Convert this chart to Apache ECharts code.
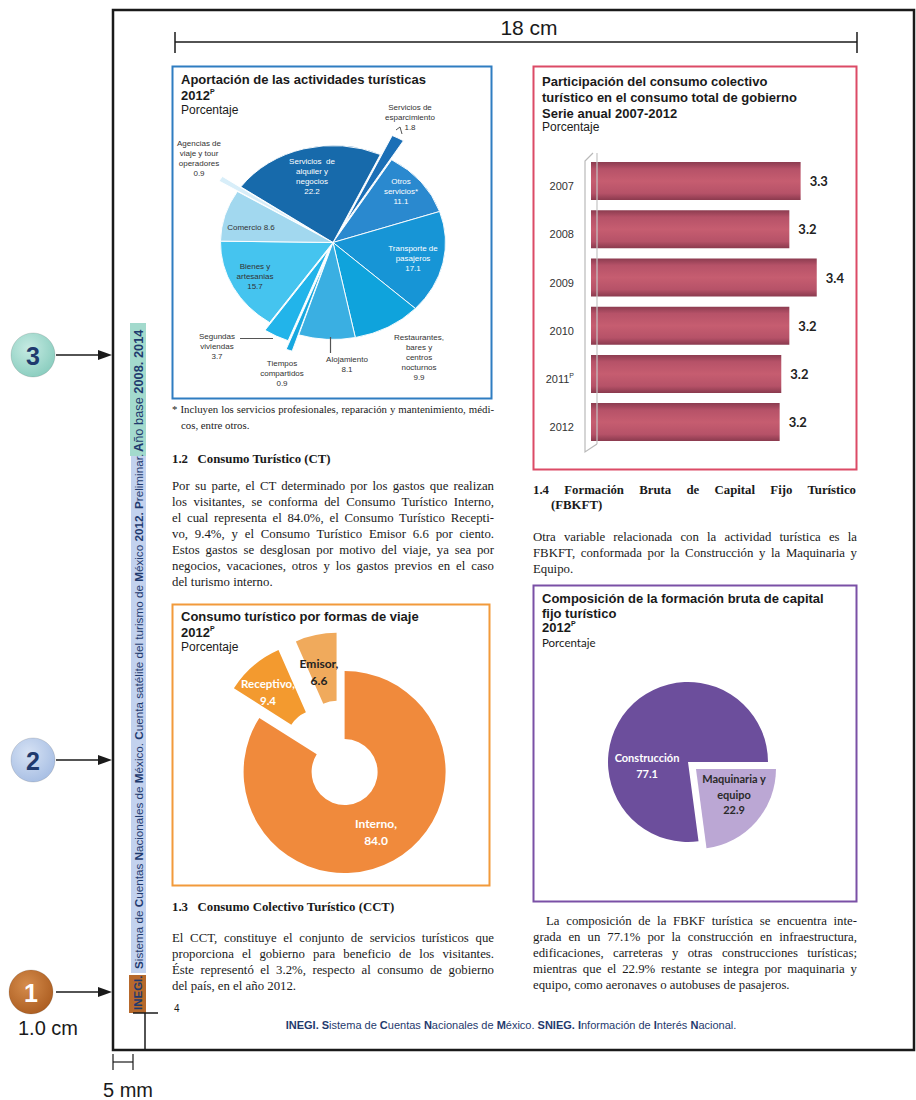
<!DOCTYPE html>
<html lang="es">
<head>
<meta charset="utf-8">
<title>Cuenta satélite del turismo de México 2012</title>
<script src="https://cdn.jsdelivr.net/npm/echarts@6/dist/echarts.min.js"></script>
<style>
  html, body { margin: 0; padding: 0; background: #fff; }
  #page { position: relative; width: 916px; height: 1100px; overflow: hidden; background: #fff; }
  #pie1 { position: absolute; left: 172px; top: 100px; width: 320px; height: 340px;
          transform: scaleY(0.862); transform-origin: 0 0; z-index: 1; }
  #main { position: absolute; left: 0; top: 0; width: 916px; height: 1100px; z-index: 2; }
  .ln { position: absolute; z-index: 3; font-family: "Liberation Serif", "Times New Roman", serif;
        font-size: 12.8px; line-height: 16px; color: #1a1a1a; text-align: justify; text-align-last: justify; }
  .ln.last { text-align: left; text-align-last: left; }
  .ln.b { font-weight: bold; }
  .ln.small { font-size: 10.8px; }
</style>
</head>
<body>
<div id="page">
  <div id="pie1"></div>
  <div id="main"></div>
</div>
<script>
// ---------- Datos ----------
// Aportación de las actividades turísticas, 2012 (porcentaje)
const actividades = [
  'Servicios  de\nalquiler y\nnegocios',
  'Servicios de\nesparcimiento',
  'Otros\nservicios*',
  'Transporte de\npasajeros',
  'Restaurantes,\nbares y\ncentros\nnocturnos',
  'Alojamiento',
  'Tiempos\ncompartidos',
  'Segundas\nviviendas',
  'Bienes y\nartesanias',
  'Comercio',
  'Agencias de\nviaje y tour\noperadores'
];
const aportacion = [22.2, 1.8, 11.1, 17.1, 9.9, 8.1, 0.9, 3.7, 15.7, 8.6, 0.9];

// Participación del consumo colectivo turístico en el consumo total de gobierno
const anios = ['2007', '2008', '2009', '2010', '2011P', '2012'];
const participacion = [3.30, 3.23, 3.40, 3.23, 3.18, 3.17];

// Consumo turístico por formas de viaje, 2012
const formasViaje = ['Interno', 'Receptivo', 'Emisor'];
const consumoFormas = [84.0, 9.4, 6.6];

// Composición de la formación bruta de capital fijo turístico, 2012
const componentes = ['Construcción', 'Maquinaria y\nequipo'];
const fbkf = [77.1, 22.9];

// ---------- Estilos ----------
const SANS = '"Liberation Sans", Arial, sans-serif';
const CALIBRI = 'Lato, "Open Sans", sans-serif';
const NAVY = '#1f3a6e';
const actColores = ['#176aab', '#1b6fb6', '#2a89cf', '#1795d6', '#0fa3dc', '#3aafe2',
                    '#17a8e0', '#22b4ea', '#45c4ef', '#a2d8ef', '#d8eef9'];
const actTextoBlanco = [true, false, true, true, false, false, false, false, false, false, false];
// desplazamiento (px) de las porciones separadas
const actSeparadas = { 1: 25, 6: 20, 7: 10, 10: 22 };
// posición de cada etiqueta (centro x, primera línea y)
const actEtiquetas = [[312, 156], [410, 102], [401, 176], [413, 243], [419, 332], [347, 354],
                      [282, 358], [217, 331], [255, 261], [251, 222], [199, 138]];
const formasColores = ['#f08a3c', '#f39a2f', '#f0aa5c'];
const formasEtiquetas = [[376, 815, '#fff', 12], [268, 675, '#fff', 11.5], [319, 655, '#222', 12]];
const fbkfColores = ['#6c4e9c', '#bba7d4'];
const fbkfEtiquetas = [[647, 750, '#fff'], [734, 771, '#2a2a2a']];

// ---------- Gráfica: aportación de las actividades turísticas ----------
const pie1 = echarts.init(document.getElementById('pie1'), null, { renderer: 'svg' });
const P1_CENTER = [161, 165.3];
const P1_RADIUS = 112.5;
const P1_START = 145;
const hidden = { color: 'rgba(0,0,0,0)', borderWidth: 0 };
const total1 = aportacion.reduce((a, b) => a + b, 0);
function pieSeries(center, visibleFn) {
  return {
    type: 'pie', silent: true, center: center, radius: P1_RADIUS, startAngle: P1_START,
    label: { show: false }, labelLine: { show: false },
    itemStyle: { borderColor: '#fff', borderWidth: 1 },
    data: actividades.map((n, i) => ({
      name: n, value: aportacion[i],
      itemStyle: visibleFn(i) ? { color: actColores[i] } : hidden
    }))
  };
}
const pie1Series = [pieSeries(P1_CENTER, i => !(i in actSeparadas))];
// porciones separadas: mismo pastel con el centro desplazado sobre la bisectriz
Object.keys(actSeparadas).forEach(k => {
  const idx = +k;
  let before = 0;
  for (let i = 0; i < idx; i++) before += aportacion[i];
  const mid = (90 - P1_START) + (before + aportacion[idx] / 2) / total1 * 360;
  const rad = mid * Math.PI / 180;
  const d = actSeparadas[k];
  pie1Series.push(pieSeries([P1_CENTER[0] + d * Math.sin(rad), P1_CENTER[1] - d * Math.cos(rad)], i => i === idx));
});
pie1.setOption({ animation: false, series: pie1Series });

// ---------- Helpers de texto ----------
function text(x, y, str, o) {
  o = o || {};
  return {
    type: 'text', x: x, y: y, rotation: o.rotation || 0, z: 10,
    style: {
      text: str, fill: o.fill || '#1a1a1a', fontSize: o.size || 12,
      fontFamily: o.family || SANS, fontWeight: o.weight || 'normal',
      align: o.align || 'left', verticalAlign: o.valign || 'top',
      lineHeight: o.lineHeight, rich: o.rich
    }
  };
}
// año con superíndice "P" (cifras preliminares)
function yearP(x, y, year) {
  return text(x, y, `{y|${year}}{p|P}`, {
    rich: {
      y: { fontSize: 13, fontWeight: 'bold', fontFamily: SANS, fill: '#1a1a1a', lineHeight: 15 },
      p: { fontSize: 7, fontWeight: 'bold', fontFamily: SANS, fill: '#1a1a1a', lineHeight: 9, verticalAlign: 'top' }
    }
  });
}
// texto con negritas marcadas entre asteriscos dobles
function richBold(str, size, color) {
  const parts = str.split('**');
  let out = '';
  parts.forEach((p, i) => { if (p) out += `{${i % 2 ? 'b' : 'r'}|${p}}`; });
  return {
    text: out,
    rich: {
      r: { fontSize: size, fontFamily: SANS, fill: color },
      b: { fontSize: size, fontFamily: SANS, fill: color, fontWeight: 'bold' }
    }
  };
}
function line(x1, y1, x2, y2, w, c) {
  return { type: 'line', z: 5, shape: { x1, y1, x2, y2 }, style: { stroke: c || '#1a1a1a', lineWidth: w || 1 } };
}
function frame(x, y, w, h, c) {
  return { type: 'rect', z: 5, shape: { x, y, width: w, height: h }, style: { fill: 'none', stroke: c, lineWidth: 2 } };
}

const g = [];
// marco de página y regla
g.push({ type: 'rect', z: 5, shape: { x: 113, y: 10, width: 801, height: 1040 }, style: { fill: 'none', stroke: '#1a1a1a', lineWidth: 2.5 } });
g.push(line(175, 42, 857, 42, 1.5), line(175, 32, 175, 53, 1.5), line(857, 32, 857, 53, 1.5));
g.push(text(529, 17, '18 cm', { size: 21, align: 'center' }));

// indicadores numerados
[[33, 355, '3', ['#c6ebe3', '#84cabb'], NAVY], [33, 760, '2', ['#d6e2f4', '#a3bbe2'], NAVY],
 [31, 992, '1', ['#d58c4c', '#a8591d'], '#fff']].forEach(([cx, cy, n, cs, tc]) => {
  g.push({ type: 'circle', z: 5, shape: { cx, cy, r: 22 }, style: {
    fill: { type: 'radial', x: 0.4, y: 0.35, r: 0.75, colorStops: [{ offset: 0, color: cs[0] }, { offset: 1, color: cs[1] }] },
    stroke: 'rgba(0,0,0,0.12)', lineWidth: 1 } });
  g.push(text(cx, cy + 1, n, { size: 25, weight: 'bold', fill: tc, align: 'center', valign: 'middle' }));
  g.push(line(56, cy, 100, cy, 1.5));
  g.push({ type: 'polygon', z: 5, shape: { points: [[98, cy - 5], [112, cy], [98, cy + 5]] }, style: { fill: '#1a1a1a' } });
});
g.push(text(48, 1018, '1.0 cm', { size: 20, align: 'center' }));
g.push(text(128, 1080, '5 mm', { size: 20, align: 'center' }));
g.push(line(133, 1013, 158, 1013, 1.5), line(145, 1013, 145, 1050, 1.5));
g.push(line(113, 1062, 133, 1062, 1.2), line(113, 1054, 113, 1070, 1.2), line(133, 1054, 133, 1070, 1.2));

// franja vertical del margen
g.push({ type: 'rect', z: 4, shape: { x: 129, y: 975, width: 17, height: 38 }, style: { fill: '#b7692c' } });
g.push({ type: 'rect', z: 4, shape: { x: 131, y: 456, width: 15, height: 517 }, style: { fill: '#c3d2ee' } });
g.push({ type: 'rect', z: 4, shape: { x: 130, y: 323, width: 16, height: 133 }, style: { fill: '#a3dacd' } });
[[1010, '**INEGI.**', 11.5],
 [969, '**S**istema de **C**uentas **N**acionales de **M**éxico. **C**uenta satélite del turismo de **M**éxico **2012. P**reliminar.', 11.7],
 [452, '**A**ño base **2008. 2014**', 12.8]].forEach(([y, s, fs]) => {
  const rb = richBold(s, fs, NAVY);
  g.push(text(138, y, rb.text, { rotation: Math.PI / 2, valign: 'middle', rich: rb.rich }));
});

// pie de página y número de página
const pie = richBold('**INEGI. S**istema de **C**uentas **N**acionales de **M**éxico. **SNIEG. I**nformación de **I**nterés **N**acional.', 11, NAVY);
g.push(text(511, 1019, pie.text, { align: 'center', rich: pie.rich }));
g.push(text(174, 1003, '4', { size: 10 }));

// ---- Recuadros y títulos ----
g.push(frame(172.5, 66.5, 319, 332, '#2f7dc1'));
g.push(text(181, 73, 'Aportación de las actividades turísticas', { size: 13, weight: 'bold' }));
g.push(yearP(181, 88, '2012'));
g.push(text(181, 104, 'Porcentaje', { size: 12 }));

g.push(frame(533.5, 66.5, 323, 403, '#dc4b66'));
g.push(text(542, 73, 'Participación del consumo colectivo\nturístico en el consumo total de gobierno\nSerie anual 2007-2012', { size: 13, weight: 'bold', lineHeight: 16 }));
g.push(text(542, 121, 'Porcentaje', { size: 12 }));

g.push(frame(172.5, 604.5, 317, 281, '#f29a3b'));
g.push(text(181, 610, 'Consumo turístico por formas de viaje', { size: 13, weight: 'bold' }));
g.push(yearP(181, 625, '2012'));
g.push(text(181, 641, 'Porcentaje', { size: 12 }));

g.push(frame(533.5, 585.5, 323, 316, '#7a50a6'));
g.push(text(542, 591, 'Composición de la formación bruta de capital\nfijo turístico', { size: 13, weight: 'bold', lineHeight: 15 }));
g.push(yearP(542, 620, '2012'));
g.push(text(542, 636, 'Porcentaje', { size: 11.5, family: CALIBRI }));

// etiquetas de la gráfica de actividades
actividades.forEach((n, i) => {
  const sep = i === 9 ? ' ' : '\n';
  const [lx, ly] = actEtiquetas[i];
  g.push(text(lx, ly, n + sep + aportacion[i].toFixed(1), {
    size: 8, lineHeight: 10, align: 'center', fill: actTextoBlanco[i] ? '#ffffff' : '#333333'
  }));
});
g.push(line(240, 338.5, 273, 338.5, 1, '#555'));
g.push(line(330.5, 337, 330.5, 353, 1.2, '#555'));
g.push({ type: 'polyline', z: 5, shape: { points: [[396, 130], [400, 127], [402, 134]] }, style: { stroke: '#555', lineWidth: 1, fill: 'none' } });

// etiquetas del consumo por formas de viaje
formasViaje.forEach((n, i) => {
  const [lx, ly, c, fs] = formasEtiquetas[i];
  g.push(text(lx, ly, n + ',\n' + consumoFormas[i].toFixed(1), {
    size: fs, weight: 'bold', family: CALIBRI, lineHeight: 17, align: 'center', fill: c
  }));
});
// etiquetas de la composición de la FBKF
componentes.forEach((n, i) => {
  const [lx, ly, c] = fbkfEtiquetas[i];
  g.push(text(lx, ly, n + '\n' + fbkf[i].toFixed(1), {
    size: 11, weight: 'bold', family: CALIBRI, lineHeight: 15.5, align: 'center', fill: c
  }));
});

// eje con efecto de pared de la gráfica de barras
g.push({ type: 'polyline', z: 1, shape: { points: [[593, 153], [585, 161], [585, 452], [597, 444]] }, style: { stroke: '#b9b9b9', lineWidth: 1.2, fill: 'none' } });
g.push(line(597, 153, 597, 444, 1.2, '#c4c4c4'));

// ---------- Gráficas principales ----------
const main = echarts.init(document.getElementById('main'), null, { renderer: 'svg' });
const barGradient = {
  type: 'linear', x: 0, y: 0, x2: 0, y2: 1,
  colorStops: [
    { offset: 0, color: '#8c3c50' }, { offset: 0.18, color: '#b65268' },
    { offset: 0.5, color: '#c65d70' }, { offset: 0.82, color: '#b65268' },
    { offset: 1, color: '#8a3a4e' }
  ]
};

main.setOption({
  animation: false,
  backgroundColor: 'transparent',
  grid: { left: 591, top: 157, width: 258, height: 289.2, containLabel: false },
  xAxis: { type: 'value', min: 2.0, max: 3.6, show: false },
  yAxis: {
    type: 'category', data: anios, inverse: true,
    axisLine: { show: false }, axisTick: { show: false },
    axisLabel: {
      margin: 17, interval: 0, padding: [10, 0, 0, 0],
      formatter: v => v.endsWith('P') ? `{a|${v.slice(0, -1)}}{s|P}` : `{a|${v}}`,
      rich: {
        a: { fontSize: 11, fontFamily: SANS, color: '#333', lineHeight: 13 },
        s: { fontSize: 7, fontFamily: SANS, color: '#333', lineHeight: 7, verticalAlign: 'top' }
      }
    }
  },
  series: [
    {
      type: 'bar', data: participacion, barWidth: 38, silent: true,
      itemStyle: { color: barGradient },
      label: {
        show: true, position: 'right', distance: 9,
        formatter: p => p.value.toFixed(1),
        fontFamily: CALIBRI, fontWeight: 'bold', fontSize: 13, color: '#222'
      }
    },
    {
      type: 'pie', silent: true, center: [344.6, 772], radius: [33, 101], startAngle: 90,
      selectedMode: 'multiple', selectedOffset: 39,
      select: { itemStyle: { borderWidth: 0 } },
      label: { show: false }, labelLine: { show: false },
      data: formasViaje.map((n, i) => ({
        name: n, value: consumoFormas[i], selected: i > 0,
        itemStyle: { color: formasColores[i] }
      }))
    },
    {
      type: 'pie', silent: true, center: [688, 762], radius: 80,
      startAngle: 360 * fbkf[0] / 100,
      selectedMode: 'single', selectedOffset: 10.6,
      select: { itemStyle: { borderWidth: 0 } },
      label: { show: false }, labelLine: { show: false },
      data: componentes.map((n, i) => ({
        name: n, value: fbkf[i], selected: i === 1,
        itemStyle: { color: fbkfColores[i] }
      }))
    }
  ],
  graphic: { elements: g }
});

// ---------- Texto corrido ----------
const page = document.getElementById('page');
function block(lines, left, width, top, o) {
  o = o || {};
  lines.forEach((t, i) => {
    const d = document.createElement('div');
    const last = i === lines.length - 1 && !o.justifyLast;
    d.className = 'ln' + (last ? ' last' : '') + (o.cls ? ' ' + o.cls : '');
    const ind = (i === 0 && o.indent) ? o.indent : 0;
    d.style.left = (left + ind) + 'px';
    d.style.width = (width - ind) + 'px';
    d.style.top = (top + i * 16) + 'px';
    d.textContent = t;
    page.appendChild(d);
  });
}
// nota de la gráfica de actividades
block(['* Incluyen los servicios profesionales, reparación y mantenimiento, médi-'], 172, 322, 401, { cls: 'small', justifyLast: true });
block(['cos, entre otros.'], 181, 300, 417, { cls: 'small' });

block(['1.2\u00a0\u00a0\u00a0Consumo Turístico (CT)'], 172, 320, 451, { cls: 'b' });
block([
  'Por su parte, el CT determinado por los gastos que realizan',
  'los visitantes, se conforma del Consumo Turístico Interno,',
  'el cual representa el 84.0%, el Consumo Turístico Recepti-',
  'vo, 9.4%, y el Consumo Turístico Emisor 6.6 por ciento.',
  'Estos gastos se desglosan por motivo del viaje, ya sea por',
  'negocios, vacaciones, otros y los gastos previos en el caso',
  'del turismo interno.'
], 172, 322, 478);

block(['1.3\u00a0\u00a0\u00a0Consumo Colectivo Turístico (CCT)'], 172, 320, 899, { cls: 'b' });
block([
  'El CCT, constituye el conjunto de servicios turísticos que',
  'proporciona el gobierno para beneficio de los visitantes.',
  'Éste representó el 3.2%, respecto al consumo de gobierno',
  'del país, en el año 2012.'
], 172, 322, 930);

block(['1.4 Formación Bruta de Capital Fijo Turístico'], 533, 323, 482, { cls: 'b', justifyLast: true });
block(['(FBKFT)'], 551, 200, 497, { cls: 'b' });
block([
  'Otra variable relacionada con la actividad turística es la',
  'FBKFT, conformada por la Construcción y la Maquinaria y',
  'Equipo.'
], 533, 324, 529);

block([
  'La composición de la FBKF turística se encuentra inte-',
  'grada en un 77.1% por la construcción en infraestructura,',
  'edificaciones, carreteras y otras construcciones turísticas;',
  'mientras que el 22.9% restante se integra por maquinaria y',
  'equipo, como aeronaves o autobuses de pasajeros.'
], 533, 324, 913, { indent: 13 });
</script>
</body>
</html>
